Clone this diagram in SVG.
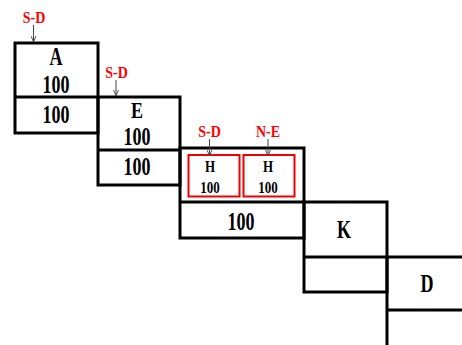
<svg xmlns="http://www.w3.org/2000/svg" width="462" height="345" viewBox="0 0 462 345">
<defs>
<style>
.box{fill:none;stroke:#000;stroke-width:3}
.div{stroke:#000;stroke-width:3}
.red{fill:none;stroke:#e00;stroke-width:2}
.t{font-family:"Liberation Serif","Times New Roman",serif;font-weight:bold;font-size:18px;fill:#000;text-anchor:middle}
.ts{font-family:"Liberation Serif","Times New Roman",serif;font-weight:bold;font-size:13px;fill:#000;text-anchor:middle}
.lbl{font-family:"Liberation Serif","Times New Roman",serif;font-weight:bold;font-size:14px;fill:#f00;text-anchor:middle}
.arr{stroke:#444;stroke-width:1;fill:none;marker-end:url(#ah)}
</style>
<marker id="ah" viewBox="0 0 10 10" refX="10" refY="5" markerWidth="6" markerHeight="6" markerUnits="userSpaceOnUse" orient="auto">
<path d="M0,1 L10,5 L0,9" fill="none" stroke="#444" stroke-width="1.5"/>
</marker>
</defs>
<rect width="462" height="345" fill="#fff"/>
<g id="A">
<rect class="box" x="15" y="43" width="83" height="90"/>
<line class="div" x1="15" y1="97" x2="98" y2="97"/>
<text class="t" transform="translate(56,65) scale(1,1.35)">A</text>
<text class="t" transform="translate(56,93) scale(1,1.35)">100</text>
<text class="t" transform="translate(56,123) scale(1,1.35)">100</text>
</g>
<g id="E">
<rect class="box" x="98" y="97" width="82" height="88"/>
<line class="div" x1="98" y1="150" x2="180" y2="150"/>
<text class="t" transform="translate(137,118) scale(1,1.3)">E</text>
<text class="t" transform="translate(137,145) scale(1,1.35)">100</text>
<text class="t" transform="translate(137,175) scale(1,1.35)">100</text>
</g>
<g id="Hgroup">
<rect class="box" x="180" y="148" width="124" height="90"/>
<line class="div" x1="180" y1="202" x2="304" y2="202"/>
<text class="t" transform="translate(241,230) scale(1,1.35)">100</text>
</g>
<g id="H1">
<rect class="red" x="188.5" y="155" width="51" height="41.5"/>
<text class="ts" transform="translate(210,171.5) scale(1,1.33)">H</text>
<text class="ts" transform="translate(210,193) scale(1,1.33)">100</text>
</g>
<g id="H2">
<rect class="red" x="243.5" y="155" width="51" height="41.5"/>
<text class="ts" transform="translate(268,171.5) scale(1,1.33)">H</text>
<text class="ts" transform="translate(268,193) scale(1,1.33)">100</text>
</g>
<g id="K">
<rect class="box" x="304" y="202" width="83" height="90"/>
<line class="div" x1="304" y1="257" x2="387" y2="257"/>
<text class="t" transform="translate(344,238) scale(1,1.35)">K</text>
</g>
<g id="D">
<rect class="box" x="387" y="257" width="90" height="100"/>
<line class="div" x1="387" y1="310" x2="477" y2="310"/>
<text class="t" transform="translate(427,291.5) scale(1,1.35)">D</text>
</g>
<g id="labels">
<text class="lbl" transform="translate(34,22.5) scale(1,1.15)">S-D</text>
<text class="lbl" transform="translate(116.5,78) scale(1,1.15)">S-D</text>
<text class="lbl" transform="translate(209.5,136.5) scale(1,1.15)">S-D</text>
<text class="lbl" transform="translate(268,136.5) scale(1,1.15)">N-E</text>
</g>
<g id="connectors">
<line class="arr" x1="33.5" y1="25" x2="33.5" y2="42"/>
<line class="arr" x1="116" y1="80" x2="116" y2="96"/>
<line class="arr" x1="209.5" y1="139" x2="209.5" y2="156"/>
<line class="arr" x1="268" y1="139" x2="268" y2="156"/>
</g>
</svg>
